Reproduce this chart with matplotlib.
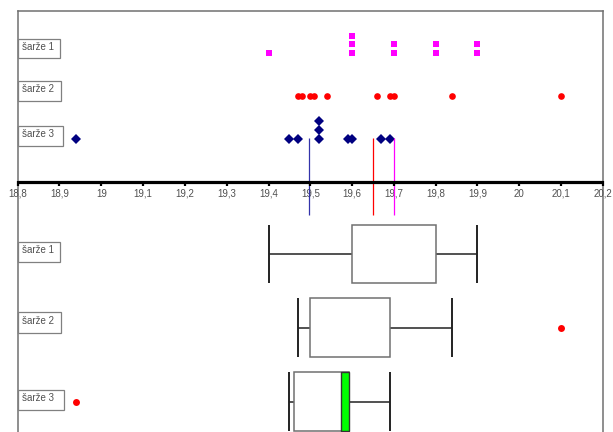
import numpy as np
import matplotlib
matplotlib.use("Agg")
import matplotlib.pyplot as plt
from matplotlib.patches import Rectangle

plt.rcParams['font.family'] = ['Liberation Sans', 'DejaVu Sans']

# measured values per batch
labels = ['šarže 1', 'šarže 2', 'šarže 3']
sarze1 = [19.4, 19.6, 19.6, 19.6, 19.7, 19.7, 19.8, 19.8, 19.9, 19.9]
sarze2 = [19.47, 19.48, 19.50, 19.51, 19.54, 19.66, 19.69, 19.70, 19.84, 20.10]
sarze3 = [18.94, 19.45, 19.47, 19.52, 19.52, 19.52, 19.59, 19.60, 19.67, 19.69]

# box plot statistics
box_lo = [19.40, 19.47, 19.45]
box_q1 = [19.60, 19.50, 19.46]
box_q3 = [19.80, 19.69, 19.593]
box_hi = [19.90, 19.84, 19.69]
green_from = [None, None, 19.573]
outliers = [None, 20.10, 18.94]

ticks = np.round(np.arange(188, 203) / 10, 1)

W, H = 613, 432
fig = plt.figure(figsize=(W / 100, H / 100), dpi=100)
lay = fig.add_axes([0, 0, 1, 1])
lay.set_xlim(0, W)
lay.set_ylim(H, 0)
lay.axis('off')

x0px, ppu = 17.7, 418.0
ax = fig.add_axes([0, 0, 1, 1], facecolor='none')
left = 18.8 - x0px / ppu
ax.set_xlim(left, left + W / ppu)
ax.set_ylim(H, 0)
ax.axis('off')

# frame
fc = '#707070'
lay.plot([17.5, 602.5], [10.5, 10.5], color=fc, lw=1.1)
lay.plot([17.5, 17.5], [10.5, H], color=fc, lw=1.1)
lay.plot([602.5, 602.5], [10.5, H], color=fc, lw=1.1)

def label_box(x, y, w, h, txt):
    lay.add_patch(Rectangle((x, y), w, h, facecolor='white', edgecolor='#808080', lw=0.9, zorder=3))
    lay.text(x + 3.5, y + h * 0.42, txt, fontsize=7, color='#505050', va='center', ha='left', zorder=4)

label_box(18, 39, 42, 19, labels[0])
label_box(18, 81, 43, 20, labels[1])
label_box(18, 126, 45, 20, labels[2])
label_box(18, 242, 42, 20, labels[0])
label_box(18, 312, 43, 21, labels[1])
label_box(18, 390, 46, 20, labels[2])

# dot plot
series = [sarze1, sarze2, sarze3]
base_y = [53, 95.5, 138.5]
styles = [dict(marker='s', color='#FF00FF', ms=4.3),
          dict(marker='o', color='#FF0000', ms=4.8),
          dict(marker='D', color='#000080', ms=5.0)]
for vals, by, st in zip(series, base_y, styles):
    seen = {}
    xs, ys = [], []
    for v in vals:
        k = seen.get(v, 0)
        seen[v] = k + 1
        xs.append(v)
        ys.append(by - k * 8.6)
    ax.plot(xs, ys, linestyle='none', marker=st['marker'], ms=st['ms'],
            color=st['color'], markeredgewidth=0, zorder=5)

# mean lines
mean_cols = ['#FF00FF', '#FF0000', '#3333AA']
for vals, c in zip(series, mean_cols):
    m = np.mean(vals)
    ax.vlines(m, 137.5, 215, color=c, lw=0.9, zorder=6)

# number axis
ax.hlines(181.5, 18.8, 20.2, color='black', lw=2.3, zorder=7)
ax.vlines(ticks, 181, 185.5, color='black', lw=1.6, zorder=7)
for t in ticks:
    ax.text(t, 194, f"{t:g}".replace('.', ','), fontsize=7, color='#505050',
            ha='center', va='center')

# box plots
box_top = [224.7, 298.3, 372.3]
box_h = 58.5
for i in range(3):
    yt = box_top[i]
    yc = yt + box_h / 2
    ax.hlines(yc, box_lo[i], box_q1[i], color='#222222', lw=1.1, zorder=4)
    ax.hlines(yc, box_q3[i], box_hi[i], color='#222222', lw=1.1, zorder=4)
    ax.vlines([box_lo[i], box_hi[i]], yt, yt + box_h, color='#222222', lw=1.4, zorder=4)
    ax.add_patch(Rectangle((box_q1[i], yt), box_q3[i] - box_q1[i], box_h,
                           facecolor='white', edgecolor='#707070', lw=1.1, zorder=5))
    if green_from[i] is not None:
        ax.add_patch(Rectangle((green_from[i], yt), box_q3[i] - green_from[i], box_h,
                               facecolor='#00FF00', edgecolor='#333333', lw=1.0, zorder=6))
    if outliers[i] is not None:
        ax.plot([outliers[i]], [yc], linestyle='none', marker='o', ms=5,
                color='#FF0000', markeredgewidth=0, zorder=6)

fig.savefig('out.png', dpi=100)
